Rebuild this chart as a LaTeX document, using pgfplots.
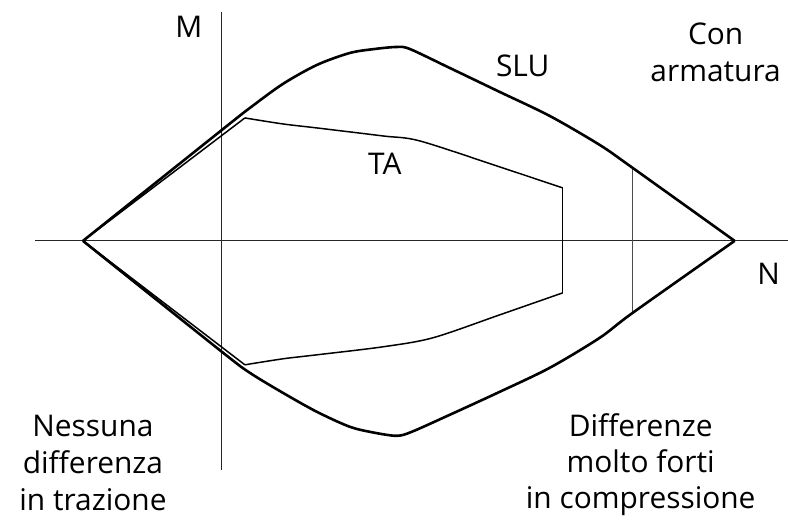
\documentclass[border=0pt]{standalone}
\usepackage{pgfplots}
\pgfplotsset{compat=1.18}
\usepackage{fontspec}
\setmainfont{Open Sans}

\begin{document}
\begin{tikzpicture}
\begin{axis}[
 width=788bp, height=525bp,
 scale only axis,
 xmin=0, xmax=788,
 ymin=0, ymax=525,
 y dir=reverse,
 hide axis,
 clip=false,
]
% cornice invisibile: la pagina copre tutto il disegno
\path (axis cs:0,0) rectangle (axis cs:788,525);

% assi N e M
\addplot[black!85, line width=0.8bp] coordinates {(35,241) (788,241)};
\addplot[black!85, line width=0.8bp] coordinates {(222,12) (222,470)};
% verticale in compressione
\addplot[black!70, line width=0.8bp] coordinates {(633,168) (633,313)};

% dominio SLU
\addplot[black, line width=2.6bp, smooth, tension=0.5] coordinates {
 (83,241) (222,130) (250,108) (283,84) (317,65) (350,53) (375,49) (397,47)
 (410,49) (450,68) (500,92) (550,116) (600,145) (633,168) (735,241)};
\addplot[black, line width=2.6bp, smooth, tension=0.5] coordinates {
 (83,241) (222,352) (250,373) (283,393) (317,412) (350,427) (375,433) (397,436)
 (412,432) (450,415) (500,392) (550,368) (600,338) (633,313) (735,241)};

% dominio TA
\addplot[black, line width=1.5bp] coordinates {(83,241) (245,118)};
\addplot[black, line width=1.5bp, smooth, tension=0.5] coordinates {
 (245,118) (283,124) (317,128) (383,136) (420,141) (500,167) (563,188)};
\addplot[black, line width=1.5bp] coordinates {(563,188) (563,293)};
\addplot[black, line width=1.5bp, smooth, tension=0.5] coordinates {
 (563,293) (500,315) (433,338) (383,347) (317,355) (283,359) (245,365)};
\addplot[black, line width=1.5bp] coordinates {(245,365) (83,241)};

\node[anchor=base, font=\fontsize{30}{36}\selectfont] at (axis cs:189,38) {M};
\node[anchor=base, font=\fontsize{30}{36}\selectfont] at (axis cs:523,77) {SLU};
\node[anchor=base, font=\fontsize{30}{36}\selectfont] at (axis cs:385,175) {TA};
\node[anchor=base, font=\fontsize{30}{36}\selectfont] at (axis cs:769,285) {N};
\node[anchor=base, font=\fontsize{30}{36}\selectfont] at (axis cs:716,45) {Con};
\node[anchor=base, font=\fontsize{30}{36}\selectfont] at (axis cs:716,82) {armatura};
\node[anchor=base, font=\fontsize{30}{36}\selectfont] at (axis cs:93,437) {Nessuna};
\node[anchor=base, font=\fontsize{30}{36}\selectfont] at (axis cs:93,474) {differenza};
\node[anchor=base, font=\fontsize{30}{36}\selectfont] at (axis cs:93,511) {in trazione};
\node[anchor=base, font=\fontsize{30}{36}\selectfont] at (axis cs:641,437) {Differenze};
\node[anchor=base, font=\fontsize{30}{36}\selectfont] at (axis cs:641,473) {molto forti};
\node[anchor=base, font=\fontsize{30}{36}\selectfont] at (axis cs:641,509) {in compressione};
\end{axis}
\end{tikzpicture}
\end{document}
